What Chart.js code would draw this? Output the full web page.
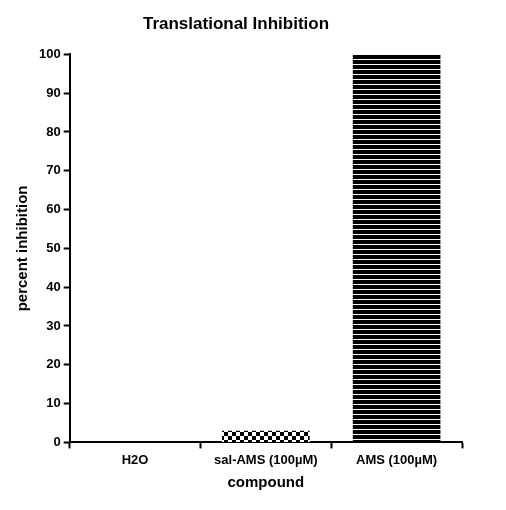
<!DOCTYPE html><html><head><script src="https://cdn.jsdelivr.net/npm/chart.js"></script>
<style>body{margin:0;background:#fff}</style></head><body>
<div style="width:506px;height:510px"><canvas id="c" width="506" height="510"></canvas></div>
<script>
const categories=["H2O","sal-AMS (100\u00b5M)","AMS (100\u00b5M)"];
const values=[0,3,100];
const yTicks=[0,10,20,30,40,50,60,70,80,90,100];
function checker(){const p=document.createElement('canvas');p.width=8;p.height=8;const g=p.getContext('2d');g.fillStyle='#fff';g.fillRect(0,0,8,8);g.fillStyle='#000';g.fillRect(0,0,4,4);g.fillRect(4,4,4,4);return g.createPattern(p,'repeat');}
function stripes(){const p=document.createElement('canvas');p.width=4;p.height=5;const g=p.getContext('2d');g.fillStyle='#000';g.fillRect(0,0,4,5);g.fillStyle='#fff';g.fillRect(0,4,4,1);return g.createPattern(p,'repeat');}
const ctx=document.getElementById('c');
const gridOpt={display:true,drawOnChartArea:false,drawTicks:true,tickLength:6,tickColor:'#000',tickWidth:2};
new Chart(ctx,{type:'bar',data:{labels:categories,datasets:[{data:values,backgroundColor:['#000',checker(),stripes()],borderWidth:0,barPercentage:0.67,categoryPercentage:1}]},
options:{responsive:false,animation:false,layout:{padding:{left:10,right:44,top:10,bottom:14}},
plugins:{legend:{display:false},tooltip:{enabled:false},title:{display:true,text:'Translational Inhibition',color:'#000',font:{family:'Liberation Sans',size:17,weight:'bold'},padding:{top:4,bottom:20}}},
scales:{x:{grid:gridOpt,border:{color:'#000',width:2},ticks:{color:'#000',padding:4,font:{family:'Liberation Sans',size:13,weight:'bold'}},title:{display:true,text:'compound',color:'#000',font:{family:'Liberation Sans',size:15,weight:'bold'},padding:{top:2}}},
y:{min:0,max:100,afterBuildTicks:a=>{a.ticks=yTicks.map(v=>({value:v}));},grid:gridOpt,border:{color:'#000',width:2},ticks:{color:'#000',font:{family:'Liberation Sans',size:13,weight:'bold'}},title:{display:true,text:'percent inhibition',color:'#000',font:{family:'Liberation Sans',size:15,weight:'bold'}}}}}});
</script></body></html>
